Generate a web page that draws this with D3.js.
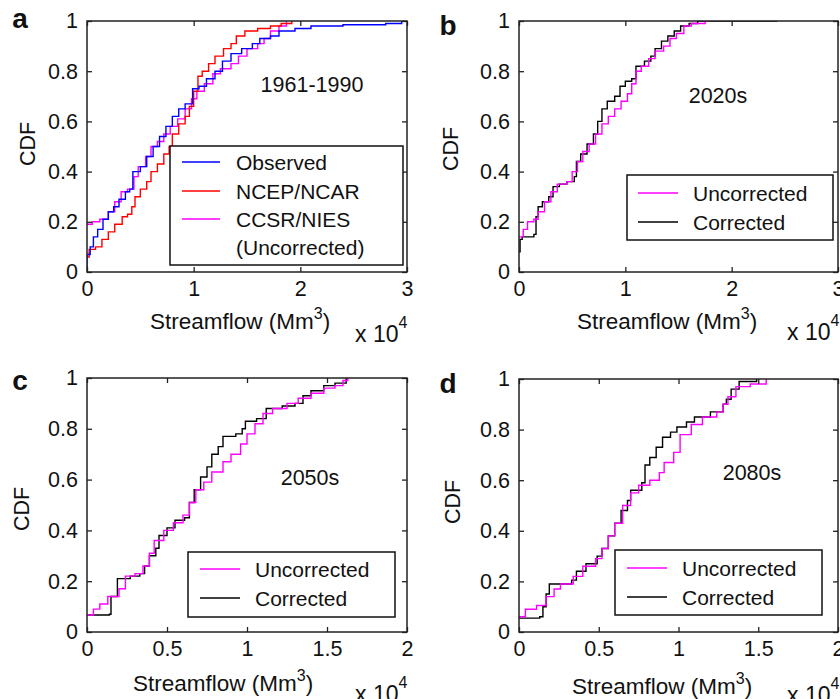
<!DOCTYPE html>
<html>
<head>
<meta charset="utf-8">
<script src="https://cdn.jsdelivr.net/npm/d3@7"></script>
<style>
body { margin: 0; background: #fff; }
text { font-family: "Liberation Sans", Arial, sans-serif; fill: #111; }
</style>
</head>
<body>
<svg width="840" height="699"></svg>
<script>
// tick values
var yTicks = [0, 0.2, 0.4, 0.6, 0.8, 1];
var xTicksWide = [0, 1, 2, 3];
var xTicksNarrow = [0, 0.5, 1, 1.5, 2];

// CDF curves: [streamflow (x 10^4 Mm3), cumulative probability]
var aObserved = [[0,0],[0,0.07],[0.03,0.1],[0.06,0.14],[0.1,0.17],[0.15,0.21],[0.2,0.24],[0.25,0.26],[0.3,0.29],[0.36,0.32],[0.4,0.33],[0.43,0.4],[0.5,0.42],[0.56,0.46],[0.62,0.5],[0.68,0.54],[0.74,0.58],[0.8,0.62],[0.86,0.65],[0.92,0.67],[0.99,0.73],[1.05,0.74],[1.12,0.77],[1.2,0.8],[1.27,0.84],[1.35,0.87],[1.45,0.89],[1.55,0.91],[1.62,0.93],[1.72,0.94],[1.8,0.96],[1.95,0.97],[2.1,0.98],[2.4,0.985],[2.8,0.99],[2.95,1],[3,1]];
var aNcep = [[0,0.06],[0.02,0.09],[0.08,0.1],[0.14,0.13],[0.2,0.16],[0.26,0.19],[0.33,0.22],[0.38,0.23],[0.42,0.26],[0.45,0.3],[0.5,0.33],[0.56,0.36],[0.6,0.4],[0.66,0.43],[0.72,0.47],[0.77,0.5],[0.8,0.55],[0.86,0.59],[0.92,0.62],[0.96,0.66],[1.0,0.72],[1.04,0.78],[1.08,0.8],[1.14,0.83],[1.2,0.86],[1.28,0.89],[1.35,0.91],[1.4,0.94],[1.48,0.96],[1.6,0.97],[1.72,0.98],[1.82,0.99],[1.92,1]];
var aCcsr = [[0,0.19],[0.05,0.2],[0.12,0.21],[0.2,0.24],[0.26,0.28],[0.32,0.32],[0.38,0.33],[0.44,0.38],[0.48,0.42],[0.55,0.46],[0.6,0.5],[0.66,0.52],[0.72,0.55],[0.78,0.58],[0.85,0.61],[0.92,0.65],[0.98,0.69],[1.03,0.72],[1.1,0.75],[1.18,0.79],[1.25,0.81],[1.35,0.83],[1.42,0.86],[1.5,0.89],[1.6,0.91],[1.66,0.93],[1.72,0.96],[1.8,0.98],[1.87,1]];

var bUncorrected = [[0,0.14],[0.04,0.17],[0.08,0.2],[0.14,0.21],[0.18,0.24],[0.24,0.28],[0.3,0.32],[0.36,0.35],[0.45,0.36],[0.5,0.4],[0.55,0.44],[0.6,0.48],[0.66,0.51],[0.72,0.55],[0.78,0.59],[0.84,0.62],[0.9,0.65],[0.96,0.68],[1.02,0.71],[1.06,0.75],[1.1,0.8],[1.15,0.82],[1.22,0.85],[1.28,0.88],[1.36,0.9],[1.42,0.93],[1.48,0.95],[1.55,0.98],[1.62,0.99],[1.75,1],[1.8,1]];
var bCorrected = [[0,0.08],[0.01,0.13],[0.03,0.14],[0.14,0.15],[0.16,0.22],[0.18,0.26],[0.22,0.28],[0.28,0.3],[0.32,0.34],[0.38,0.35],[0.45,0.36],[0.52,0.38],[0.54,0.44],[0.58,0.47],[0.64,0.51],[0.7,0.55],[0.74,0.6],[0.78,0.65],[0.83,0.68],[0.9,0.7],[0.95,0.74],[1.0,0.76],[1.06,0.77],[1.1,0.82],[1.18,0.84],[1.24,0.86],[1.28,0.89],[1.34,0.92],[1.4,0.94],[1.46,0.96],[1.52,0.98],[1.6,0.99],[1.68,1],[2.43,1]];

var cUncorrected = [[0,0.067],[0.04,0.09],[0.08,0.11],[0.13,0.14],[0.2,0.17],[0.24,0.22],[0.3,0.23],[0.35,0.26],[0.39,0.31],[0.42,0.36],[0.48,0.4],[0.54,0.43],[0.6,0.46],[0.64,0.51],[0.68,0.56],[0.73,0.59],[0.78,0.63],[0.85,0.67],[0.9,0.7],[0.96,0.74],[1.0,0.78],[1.05,0.82],[1.1,0.86],[1.16,0.88],[1.25,0.9],[1.32,0.92],[1.4,0.94],[1.48,0.96],[1.55,0.97],[1.6,0.99],[1.63,1]];
var cCorrected = [[0,0.067],[0.14,0.07],[0.15,0.14],[0.19,0.21],[0.27,0.22],[0.33,0.23],[0.36,0.26],[0.39,0.3],[0.43,0.33],[0.45,0.38],[0.5,0.41],[0.55,0.44],[0.61,0.45],[0.64,0.51],[0.67,0.56],[0.71,0.61],[0.75,0.65],[0.78,0.7],[0.82,0.73],[0.85,0.77],[0.93,0.78],[0.97,0.8],[0.99,0.83],[1.06,0.84],[1.12,0.88],[1.22,0.89],[1.3,0.9],[1.35,0.93],[1.4,0.95],[1.48,0.97],[1.55,0.98],[1.62,1]];

var dUncorrected = [[0,0.06],[0.04,0.09],[0.11,0.105],[0.17,0.14],[0.22,0.17],[0.26,0.19],[0.34,0.22],[0.4,0.26],[0.48,0.29],[0.52,0.33],[0.56,0.38],[0.6,0.43],[0.65,0.5],[0.7,0.55],[0.75,0.58],[0.82,0.6],[0.88,0.63],[0.91,0.67],[0.97,0.71],[1.01,0.78],[1.08,0.82],[1.15,0.85],[1.24,0.87],[1.28,0.9],[1.31,0.93],[1.36,0.97],[1.45,0.98],[1.55,1]];
var dCorrected = [[0,0.055],[0.13,0.06],[0.15,0.1],[0.17,0.15],[0.19,0.19],[0.26,0.19],[0.33,0.205],[0.36,0.24],[0.42,0.27],[0.49,0.3],[0.52,0.33],[0.56,0.38],[0.6,0.43],[0.64,0.48],[0.68,0.52],[0.7,0.56],[0.77,0.59],[0.79,0.66],[0.82,0.69],[0.86,0.73],[0.9,0.77],[0.95,0.79],[0.99,0.81],[1.05,0.83],[1.1,0.85],[1.2,0.87],[1.28,0.9],[1.3,0.92],[1.33,0.96],[1.38,0.99],[1.49,1]];

var panels = [
    {letter: "a", box: [87, 21, 407, 272], xMax: 3, xTicks: xTicksWide, note: "1961-1990", noteAt: [312, 92],
     letterAt: [20, 28], cdfAt: [27, 144], flowAt: [150, 329], expAt: [355, 342],
     legend: {box: [170, 146, 403, 265], line: [182, 220], text: 236, rows: [162, 191, 219]},
     series: [
        {name: "Observed", data: aObserved, color: "#0000ff"},
        {name: "NCEP/NCAR", data: aNcep, color: "#ff0000"},
        {name: "CCSR/NIES", extra: "(Uncorrected)", data: aCcsr, color: "#ff00ff"}
     ]},
    {letter: "b", box: [519, 21, 838, 272], xMax: 3, xTicks: xTicksWide, note: "2020s", noteAt: [718, 103],
     letterAt: [448, 35], cdfAt: [450, 149], flowAt: [577, 329], expAt: [787, 340],
     legend: {box: [627, 175, 833, 240], line: [638, 678], text: 693, rows: [193, 222]},
     series: [
        {name: "Uncorrected", data: bUncorrected, color: "#ff00ff"},
        {name: "Corrected", data: bCorrected, color: "#000000"}
     ]},
    {letter: "c", box: [87, 378, 407, 632], xMax: 2, xTicks: xTicksNarrow, note: "2050s", noteAt: [310, 485],
     letterAt: [20, 390], cdfAt: [21, 509], flowAt: [133, 691], expAt: [355, 702],
     legend: {box: [188, 552, 395, 617], line: [200, 240], text: 255, rows: [569, 598]},
     series: [
        {name: "Uncorrected", data: cUncorrected, color: "#ff00ff"},
        {name: "Corrected", data: cCorrected, color: "#000000"}
     ]},
    {letter: "d", box: [519, 379, 838, 632], xMax: 2, xTicks: xTicksNarrow, note: "2080s", noteAt: [752, 480],
     letterAt: [448, 393], cdfAt: [452, 502], flowAt: [572, 694], expAt: [787, 703],
     legend: {box: [615, 550, 822, 615], line: [627, 667], text: 682, rows: [568, 597]},
     series: [
        {name: "Uncorrected", data: dUncorrected, color: "#ff00ff"},
        {name: "Corrected", data: dCorrected, color: "#000000"}
     ]}
];

var svg = d3.select("svg");

panels.forEach(function (p, i) {
    var x = d3.scaleLinear().domain([0, p.xMax]).range([p.box[0], p.box[2]]);
    var y = d3.scaleLinear().domain([0, 1]).range([p.box[3], p.box[1]]);
    var g = svg.append("g");

    svg.append("clipPath").attr("id", "clip" + i)
        .append("rect")
        .attr("x", p.box[0]).attr("y", p.box[1])
        .attr("width", p.box[2] - p.box[0]).attr("height", p.box[3] - p.box[1]);

    // curves
    var line = d3.line()
        .x(function (d) { return x(d[0]); })
        .y(function (d) { return y(d[1]); })
        .curve(d3.curveStepAfter);

    g.append("g").attr("clip-path", "url(#clip" + i + ")")
        .selectAll("path")
        .data(p.series.slice().reverse())
        .enter().append("path")
        .attr("d", function (s) { return line(s.data); })
        .attr("fill", "none")
        .attr("stroke", function (s) { return s.color; })
        .attr("stroke-width", 1.4);

    // axes, matlab style with inward ticks on every side
    var fmt = function (d) { return String(d); };
    g.append("g").attr("transform", "translate(0," + p.box[3] + ")")
        .call(d3.axisBottom(x).tickValues(p.xTicks).tickSize(-5).tickPadding(9).tickFormat(fmt));
    g.append("g").attr("transform", "translate(0," + p.box[1] + ")")
        .call(d3.axisTop(x).tickValues(p.xTicks).tickSize(-5).tickFormat(""));
    g.append("g").attr("transform", "translate(" + p.box[0] + ",0)")
        .call(d3.axisLeft(y).tickValues(yTicks).tickSize(-5).tickPadding(9).tickFormat(fmt));
    g.append("g").attr("transform", "translate(" + p.box[2] + ",0)")
        .call(d3.axisRight(y).tickValues(yTicks).tickSize(-5).tickFormat(""));

    g.selectAll(".domain").remove();
    g.selectAll(".tick line").attr("stroke", "#222").attr("stroke-width", 1.3);
    g.selectAll(".tick text").style("font-size", "21.5px").attr("fill", "#111")
        .style("font-family", "'Liberation Sans', Arial, sans-serif");

    g.append("rect")
        .attr("x", p.box[0]).attr("y", p.box[1])
        .attr("width", p.box[2] - p.box[0]).attr("height", p.box[3] - p.box[1])
        .attr("fill", "none").attr("stroke", "#222").attr("stroke-width", 1.5);

    // legend
    var L = p.legend;
    g.append("rect")
        .attr("x", L.box[0]).attr("y", L.box[1])
        .attr("width", L.box[2] - L.box[0]).attr("height", L.box[3] - L.box[1])
        .attr("fill", "#fff").attr("stroke", "#111").attr("stroke-width", 1.5);
    p.series.forEach(function (s, k) {
        g.append("line")
            .attr("x1", L.line[0]).attr("x2", L.line[1])
            .attr("y1", L.rows[k]).attr("y2", L.rows[k])
            .attr("stroke", s.color).attr("stroke-width", 1.4);
        g.append("text").attr("x", L.text).attr("y", L.rows[k])
            .attr("dy", "0.36em").style("font-size", "21px").text(s.name);
        if (s.extra) {
            g.append("text").attr("x", L.text).attr("y", L.rows[k] + 28)
                .attr("dy", "0.36em").style("font-size", "21px").text(s.extra);
        }
    });

    // labels
    g.append("text").attr("x", p.letterAt[0]).attr("y", p.letterAt[1])
        .attr("text-anchor", "middle").style("font-size", "28px").style("font-weight", "bold")
        .text(p.letter);
    g.append("text").attr("x", p.noteAt[0]).attr("y", p.noteAt[1])
        .attr("text-anchor", "middle").style("font-size", "21.5px").text(p.note);
    g.append("text")
        .attr("transform", "translate(" + p.cdfAt[0] + "," + p.cdfAt[1] + ") rotate(-90)")
        .attr("text-anchor", "middle").attr("dy", "0.36em").style("font-size", "21.5px").text("CDF");

    var flow = g.append("text").attr("x", p.flowAt[0]).attr("y", p.flowAt[1]).style("font-size", "22.5px");
    flow.append("tspan").text("Streamflow (Mm");
    flow.append("tspan").attr("dy", -10).style("font-size", "16px").text("3");
    flow.append("tspan").attr("dy", 10).text(")");

    var ex = g.append("text").attr("x", p.expAt[0]).attr("y", p.expAt[1]).style("font-size", "23px");
    ex.append("tspan").text("x 10");
    ex.append("tspan").attr("dy", -14).style("font-size", "16px").text("4");
});
</script>
</body>
</html>
